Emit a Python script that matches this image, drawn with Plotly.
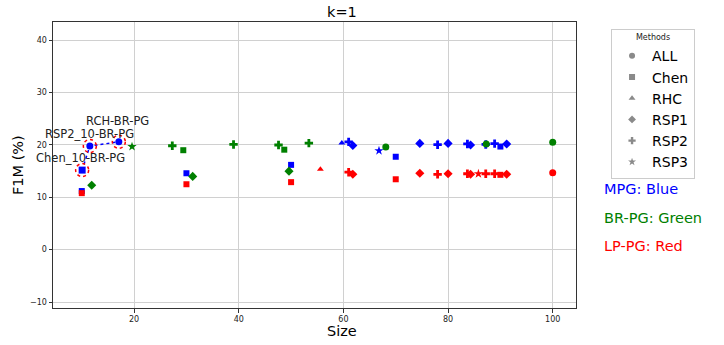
import plotly.graph_objects as go

# ---------------- data ----------------
methods = ["ALL", "Chen", "RHC", "RSP1", "RSP2", "RSP3"]
symbols = {"ALL": "circle", "Chen": "square", "RHC": "triangle-up",
           "RSP1": "diamond", "RSP2": "cross", "RSP3": "star"}
sizes = {"ALL": 7, "Chen": 6, "RHC": 6, "RSP1": 7, "RSP2": 7, "RSP3": 7}

# MPG (blue)
mpg_chen_x = [10, 30, 50, 70, 90]
mpg_chen_y = [11.2, 14.6, 16.2, 17.75, 19.7]
mpg_rhc_x = [59.7]
mpg_rhc_y = [20.4]
mpg_rsp1_x = [61.8, 74.6, 80.0, 84.3, 91.2]
mpg_rsp1_y = [19.9, 20.3, 20.3, 20.0, 20.2]
mpg_rsp2_x = [61.0, 78.0, 83.7, 87.2, 88.9]
mpg_rsp2_y = [20.6, 20.05, 20.2, 20.1, 20.25]
mpg_rsp3_x = [66.8]
mpg_rsp3_y = [18.9]

# BR-PG (green)
br_all_x = [68.1, 87.3, 100]
br_all_y = [19.6, 20.2, 20.5]
br_chen_x = [29.4, 48.7]
br_chen_y = [19.0, 19.1]
br_rsp1_x = [11.9, 31.2, 49.6]
br_rsp1_y = [12.3, 14.0, 15.0]
br_rsp2_x = [27.3, 39.0, 47.6, 53.4]
br_rsp2_y = [19.85, 20.1, 20.0, 20.35]
br_rsp3_x = [19.6]
br_rsp3_y = [19.7]

# LP-PG (red)
lp_all_x = [100]
lp_all_y = [14.7]
lp_chen_x = [10, 30, 50, 70, 90]
lp_chen_y = [10.8, 12.5, 12.9, 13.45, 14.3]
lp_rhc_x = [55.6]
lp_rhc_y = [15.35]
lp_rsp1_x = [61.8, 74.6, 80.0, 84.3, 91.2]
lp_rsp1_y = [14.4, 14.6, 14.5, 14.4, 14.4]
lp_rsp2_x = [61.0, 78.0, 83.7, 87.2, 88.9]
lp_rsp2_y = [14.8, 14.4, 14.5, 14.5, 14.5]
lp_rsp3_x = [85.8]
lp_rsp3_y = [14.5]

# Pareto front (highlighted)
pareto_labels = ["Chen_10-BR-PG", "RSP2_10-BR-PG", "RCH-BR-PG"]
pareto_x = [10.07, 11.54, 17.08]
pareto_y = [15.2, 19.8, 20.6]
pareto_symbols = ["square", "circle", "circle"]
label_text_x = [9.8, 11.45, 16.9]
label_text_y = [17.5, 22.1, 24.55]

groups = [
    ("blue", {"Chen": (mpg_chen_x, mpg_chen_y), "RHC": (mpg_rhc_x, mpg_rhc_y),
              "RSP1": (mpg_rsp1_x, mpg_rsp1_y), "RSP2": (mpg_rsp2_x, mpg_rsp2_y),
              "RSP3": (mpg_rsp3_x, mpg_rsp3_y)}),
    ("green", {"ALL": (br_all_x, br_all_y), "Chen": (br_chen_x, br_chen_y),
               "RSP1": (br_rsp1_x, br_rsp1_y), "RSP2": (br_rsp2_x, br_rsp2_y),
               "RSP3": (br_rsp3_x, br_rsp3_y)}),
    ("red", {"ALL": (lp_all_x, lp_all_y), "Chen": (lp_chen_x, lp_chen_y),
             "RHC": (lp_rhc_x, lp_rhc_y), "RSP1": (lp_rsp1_x, lp_rsp1_y),
             "RSP2": (lp_rsp2_x, lp_rsp2_y), "RSP3": (lp_rsp3_x, lp_rsp3_y)}),
]
color_map = {"blue": "#0000ff", "green": "#008000", "red": "#ff0000"}

fig = go.Figure()

for cname, d in groups:
    for m, (xs, ys) in d.items():
        fig.add_trace(go.Scatter(
            x=xs, y=ys, mode="markers", showlegend=False,
            marker=dict(symbol=symbols[m], size=sizes[m], color=color_map[cname],
                        line=dict(width=0))))

# pareto line + markers
fig.add_trace(go.Scatter(x=pareto_x, y=pareto_y, mode="lines", showlegend=False,
                         line=dict(color="#0000ff", width=1.5, dash="dot")))
fig.add_trace(go.Scatter(x=pareto_x, y=pareto_y, mode="markers", showlegend=False,
                         marker=dict(symbol=pareto_symbols, size=7, color="#0000ff")))
for px, py in zip(pareto_x, pareto_y):
    fig.add_shape(type="circle", xref="x", yref="y", xsizemode="pixel", ysizemode="pixel",
                  xanchor=px, yanchor=py, x0=-6.5, x1=6.5, y0=-6.5, y1=6.5,
                  line=dict(color="#ff0000", width=1.5, dash="dot"))
for lab, tx, ty in zip(pareto_labels, label_text_x, label_text_y):
    fig.add_annotation(x=tx, y=ty, xref="x", yref="y", text=lab, showarrow=False,
                       font=dict(size=11.5, color="#222"), xanchor="center", yanchor="middle")

# legend entries (gray)
for m in methods:
    fig.add_trace(go.Scatter(x=[None], y=[None], mode="markers", name=m,
                             marker=dict(symbol=symbols[m], size=6, color="#8a8a8a")))

# group colour notes
notes = [("MPG: Blue", "#0000ff", 0.416), ("BR-PG: Green", "#008000", 0.315),
         ("LP-PG: Red", "#ff0000", 0.217)]
for t, c, yy in notes:
    fig.add_annotation(x=1.0495, y=yy, xref="paper", yref="paper", text=t, showarrow=False,
                       xanchor="left", yanchor="middle", font=dict(size=14.5, color=c))

# title, x label, y label
fig.add_annotation(x=0.553, y=1.0, yshift=10, xref="paper", yref="paper", text="k=1",
                   showarrow=False, font=dict(size=14.5, color="#000"), yanchor="middle")
fig.add_annotation(x=0.553, y=0, yshift=-23, xref="paper", yref="paper", text="Size",
                   showarrow=False, font=dict(size=14.5, color="#000"), yanchor="middle")
fig.add_annotation(x=-0.0669, y=0.5, xref="paper", yref="paper", text="F1M (%)",
                   textangle=-90, showarrow=False, font=dict(size=14.5, color="#000"),
                   xanchor="center", yanchor="middle")

axis_common = dict(showgrid=True, gridcolor="#d0d0d0", gridwidth=1, showline=True,
                   linecolor="#333", linewidth=1, mirror=True, ticks="outside",
                   ticklen=3.5, tickcolor="#333", tickfont=dict(size=8, color="#222"),
                   zeroline=False, automargin=False)

fig.update_layout(
    width=724, height=345,
    margin=dict(l=53, r=148, t=22, b=37, autoexpand=False),
    paper_bgcolor="white", plot_bgcolor="white",
    font=dict(family="DejaVu Sans"),
    xaxis=dict(range=[4.5, 104.45], tickvals=[20, 40, 60, 80, 100], **axis_common),
    yaxis=dict(range=[-11.14, 43.49], tickvals=[-10, 0, 10, 20, 30, 40], **axis_common),
    legend=dict(title=dict(text="Methods", font=dict(size=8, color="#222"), side="top center"),
                x=1.067, y=0.976, xanchor="left", yanchor="top",
                bordercolor="#cccccc", borderwidth=1, bgcolor="white",
                font=dict(size=14, color="#000")),
)

# remove the default 8px page margin so the figure sits at the window's top-left corner
fig.write_html("out.html", config={"displayModeBar": False},
               post_script="document.body.style.margin='0px';")
